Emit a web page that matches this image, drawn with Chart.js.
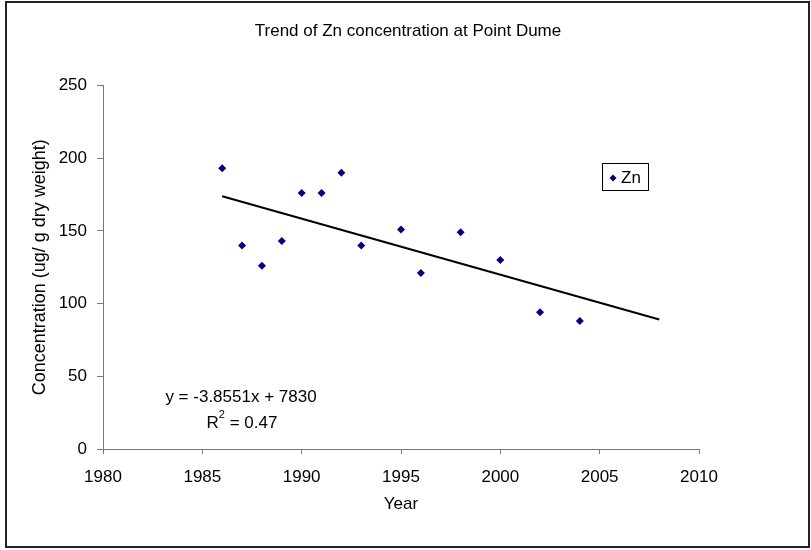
<!DOCTYPE html>
<html>
<head>
<meta charset="utf-8">
<script src="https://cdn.jsdelivr.net/npm/chart.js@4.4.0/dist/chart.umd.min.js"></script>
<style>
html,body{margin:0;padding:0;background:#fff;}
#wrap{width:811px;height:550px;}
</style>
</head>
<body>
<div id="wrap"><canvas id="c" width="811" height="550"></canvas></div>
<script>
// ---- data ----
const years = [1986, 1987, 1988, 1989, 1990, 1991, 1992, 1993, 1995, 1996, 1998, 2000, 2002, 2004];
const znValues = [193, 140, 126, 143, 176, 176, 190, 140, 151, 121, 149, 130, 94, 88];
const trendYears = [1986, 2008];
const trendValues = [173.8, 89.0];
const xTicks = [1980, 1985, 1990, 1995, 2000, 2005, 2010];
const yTicks = [0, 50, 100, 150, 200, 250];
const titleText = 'Trend of Zn concentration at Point Dume';
const xTitle = 'Year';
const yTitle = 'Concentration (ug/ g dry weight)';
const seriesName = 'Zn';
const equationText = 'y = -3.8551x + 7830';
const r2Value = '0.47';

const FONT = "'Liberation Sans', Arial, Helvetica, sans-serif";
Chart.defaults.font.family = FONT;
Chart.defaults.color = '#000';

const scatterPts = years.map((y, i) => ({x: y, y: znValues[i]}));
const trendPts = trendYears.map((y, i) => ({x: y, y: trendValues[i]}));

const decor = {
  id: 'decor',
  afterDraw(chart) {
    const ctx = chart.ctx;
    ctx.save();
    // outer border
    ctx.strokeStyle = '#222';
    ctx.lineWidth = 2;
    ctx.strokeRect(6, 2, 803, 545);
    // legend
    const ds = chart.data.datasets[0];
    ctx.lineWidth = 1;
    ctx.strokeStyle = '#000';
    ctx.fillStyle = '#fff';
    ctx.fillRect(602.5, 163.5, 46, 27);
    ctx.strokeRect(602.5, 163.5, 46, 27);
    ctx.fillStyle = ds.backgroundColor;
    const cx = 613, cy = 178, r = 3.5;
    ctx.beginPath();
    ctx.moveTo(cx, cy - r); ctx.lineTo(cx + r, cy); ctx.lineTo(cx, cy + r); ctx.lineTo(cx - r, cy);
    ctx.closePath(); ctx.fill();
    ctx.fillStyle = '#000';
    ctx.font = '17px ' + FONT;
    ctx.textBaseline = 'middle';
    ctx.textAlign = 'left';
    ctx.fillText(ds.label, 621, 178);
    // trend equation
    ctx.font = '17px ' + FONT;
    ctx.textAlign = 'center';
    ctx.fillText(equationText, 241, 397);
    // R^2 with superscript
    const small = '11px ' + FONT;
    const big = '17px ' + FONT;
    ctx.font = big;
    const wR = ctx.measureText('R').width;
    const wRest = ctx.measureText(' = ' + r2Value).width;
    ctx.font = small;
    const w2 = ctx.measureText('2').width;
    const total = wR + w2 + wRest;
    let x0 = 242 - total / 2;
    ctx.textAlign = 'left';
    ctx.font = big;
    ctx.fillText('R', x0, 423);
    ctx.font = small;
    ctx.fillText('2', x0 + wR, 415);
    ctx.font = big;
    ctx.fillText(' = ' + r2Value, x0 + wR + w2, 423);
    ctx.restore();
  }
};

new Chart(document.getElementById('c'), {
  type: 'scatter',
  data: {
    datasets: [
      {
        label: seriesName,
        data: scatterPts,
        backgroundColor: '#000080',
        borderColor: '#000080',
        pointStyle: 'rectRot',
        pointRadius: 4,
        pointHoverRadius: 4,
        borderWidth: 0,
        order: 1
      },
      {
        label: 'Linear (Zn)',
        type: 'line',
        data: trendPts,
        borderColor: '#000',
        borderWidth: 2,
        pointRadius: 0,
        fill: false,
        order: 2
      }
    ]
  },
  options: {
    responsive: false,
    animation: false,
    devicePixelRatio: 1,
    layout: { padding: { left: 5, right: 0, top: 0, bottom: 0 } },
    plugins: {
      legend: { display: false },
      tooltip: { enabled: false },
      title: {
        display: true,
        text: titleText,
        color: '#000',
        font: { size: 17, weight: 'normal' },
        padding: { top: 21, bottom: 44 }
      }
    },
    scales: {
      x: {
        type: 'linear',
        min: 1980, max: 2010,
        afterBuildTicks(scale) { scale.ticks = xTicks.map(v => ({value: v})); },
        afterFit(scale) { scale.height = 101; },
        ticks: { font: { size: 17 }, color: '#000', padding: 13, maxRotation: 0, callback: v => String(v) },
        grid: { drawOnChartArea: false, drawTicks: true, tickLength: 5, color: '#777' },
        border: { color: '#777', width: 1 },
        title: { display: true, text: xTitle, color: '#000', font: { size: 17 }, padding: { top: 0, bottom: 35 } }
      },
      y: {
        min: 0, max: 250,
        afterBuildTicks(scale) { scale.ticks = yTicks.map(v => ({value: v})); },
        afterFit(scale) { scale.width = 98; },
        ticks: { font: { size: 17 }, color: '#000', padding: 10, callback: v => String(v) },
        grid: { drawOnChartArea: false, drawTicks: true, tickLength: 6, color: '#777' },
        border: { color: '#777', width: 1 },
        title: { display: true, text: yTitle, color: '#000', font: { size: 18 }, padding: { top: 24, bottom: 0 } }
      },
      yRightSpace: {
        position: 'right',
        display: true,
        min: 0, max: 1,
        afterFit(scale) { scale.width = 112; },
        ticks: { display: false },
        grid: { display: false },
        border: { display: false }
      }
    }
  },
  plugins: [decor]
});
</script>
</body>
</html>
